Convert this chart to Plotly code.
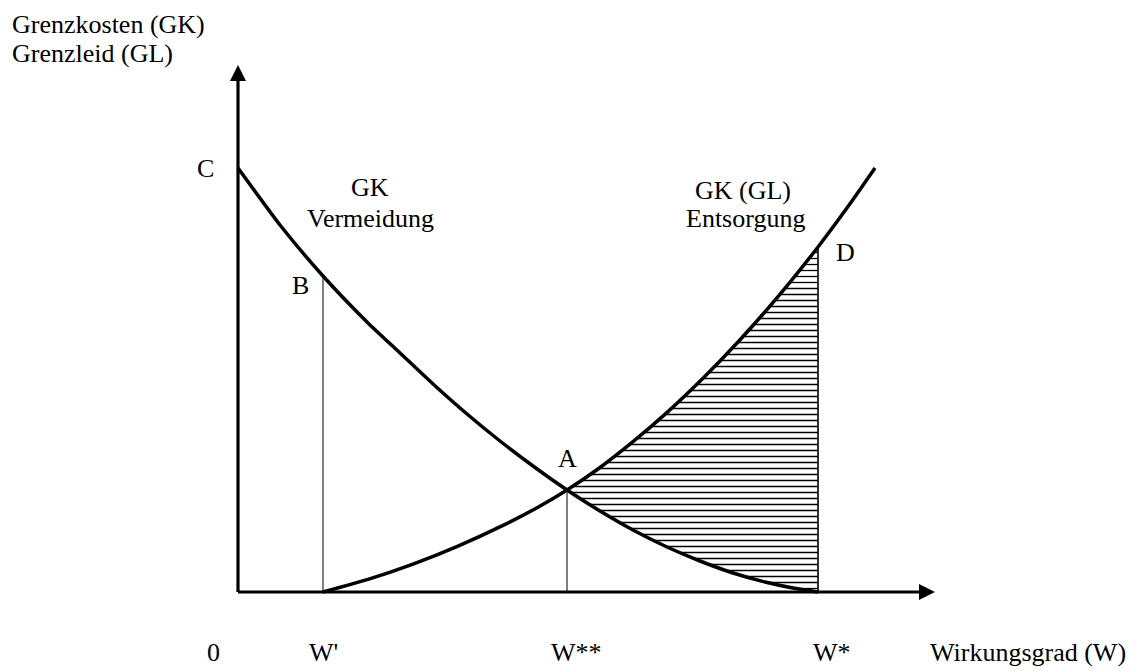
import plotly.graph_objects as go
import numpy as np

# ---- data (x: Wirkungsgrad, y: Grenzkosten / Grenzleid) ----
verm_x = [0, 42, 85, 130, 162, 195, 229, 262, 295, 329, 362, 395, 429, 462, 495, 527, 555, 580]
verm_y = [424, 367, 316, 269, 239, 208, 178, 151, 126, 102, 81, 62, 45, 31, 19, 10, 4, 0]

ents_x = [85, 130, 175, 220, 265, 300, 329, 360, 395, 430, 465, 500, 540, 580, 610, 637]
ents_y = [0, 12.6, 27.9, 45.9, 66.6, 84.8, 102, 123, 150.3, 180.4, 213.7, 250, 295.3, 345, 385.4, 424]

W_prime, W_2star, W_star = 85, 329, 580
B_y, A_y, D_y, C_y = 316, 102, 345, 424
x_axis_end, y_axis_end = 697, 527
hatch_step = 6

FONT = "Liberation Serif"
FS = 26

fig = go.Figure()

# hatched area between the curves from A to W* (horizontal lines)
hx, hy = [], []
for yv in np.arange(3.5, D_y, hatch_step):
    if yv < A_y:
        xl = float(np.interp(yv, verm_y[::-1], verm_x[::-1]))
    else:
        xl = float(np.interp(yv, ents_y, ents_x))
    hx += [xl, W_star, None]
    hy += [yv, yv, None]
fig.add_trace(go.Scatter(x=hx, y=hy, mode="lines", line=dict(color="black", width=1.3),
                         hoverinfo="skip", showlegend=False))

# thin vertical lines
for xv, yv, w in [(W_prime, B_y, 1), (W_2star, A_y, 1), (W_star, D_y, 1.6)]:
    fig.add_trace(go.Scatter(x=[xv, xv], y=[0, yv], mode="lines",
                             line=dict(color="black", width=w),
                             hoverinfo="skip", showlegend=False))

# curves
for cx, cy in [(verm_x, verm_y), (ents_x, ents_y)]:
    fig.add_trace(go.Scatter(x=cx, y=cy, mode="lines",
                             line=dict(color="black", width=3.5, shape="spline", smoothing=0.6),
                             hoverinfo="skip", showlegend=False))

# axes with arrows
fig.add_annotation(x=x_axis_end, y=0, ax=-1.5, ay=0, xref="x", yref="y", axref="x", ayref="y",
                   showarrow=True, arrowhead=2, arrowsize=1, arrowwidth=3.2, arrowcolor="black", text="")
fig.add_annotation(x=0, y=y_axis_end, ax=0, ay=-1.5, xref="x", yref="y", axref="x", ayref="y",
                   showarrow=True, arrowhead=2, arrowsize=1, arrowwidth=3.2, arrowcolor="black", text="")

def label(txt, x, y, xanchor="center"):
    fig.add_annotation(x=x, y=y, xref="x", yref="y", text=txt, showarrow=False,
                       xanchor=xanchor, yanchor="middle",
                       font=dict(family=FONT, size=FS, color="black"))

label("Grenzkosten (GK)", -228, 568, "left")
label("Grenzleid (GL)", -228, 539, "left")
label("C", -33, C_y)
label("B", 62, 307)
label("GK", 132, 405)
label("Vermeidung", 132, 374)
label("A", 329, 134)
label("GK (GL)", 505, 402)
label("Entsorgung", 507, 374)
label("D", 607, 340)
label("0", -25, -60)
label("W'", W_prime, -60)
label("W**", 338, -60)
label("W*", 594, -60)
label("Wirkungsgrad (W)", 690, -60, "left")

# page has an 8px body margin: shift the plot so it lands where the reference is
fig.update_layout(
    width=1128, height=663, autosize=False,
    margin=dict(l=0, r=0, t=0, b=0),
    paper_bgcolor="white", plot_bgcolor="white",
    xaxis=dict(range=[-230, 898], visible=False, fixedrange=True),
    yaxis=dict(range=[-79, 584], visible=False, fixedrange=True),
    showlegend=False,
)

fig.write_html("out.html")
